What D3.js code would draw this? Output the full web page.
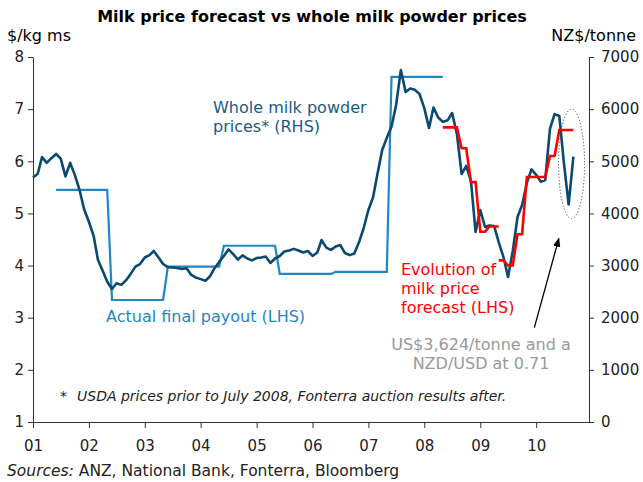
<!DOCTYPE html>
<html>
<head>
<meta charset="utf-8">
<script src="https://cdn.jsdelivr.net/npm/d3@7"></script>
<style>
  body { margin: 0; background: #fff; }
  svg { display: block; font-family: "DejaVu Sans", Verdana, sans-serif; }
</style>
</head>
<body>
<div id="chart"></div>
<script>

// Whole milk powder prices, NZ$/tonne, one value per month from Jan 2001 (RHS)
const wmpStart = "2001-01"
const wmpPrices = [
  4690, 4760, 5080, 4970, 5060, 5140, 5050, 4710, 4970, 4740, 4450, 4080,
  3840, 3570, 3110, 2900, 2690, 2550, 2660, 2630, 2720, 2840, 2980, 3030,
  3155, 3200, 3280, 3155, 3030, 2970, 2965, 2955, 2935, 2950, 2820, 2770,
  2740, 2710, 2790, 2950, 3070, 3185, 3310, 3220, 3115, 3195, 3135, 3100,
  3145, 3155, 3175, 3050, 3136, 3184, 3270, 3290, 3320, 3290, 3250, 3280,
  3184, 3250, 3490, 3345, 3300, 3365, 3395, 3240, 3200, 3230, 3450, 3720,
  4065, 4315, 4755, 5215, 5445, 5665, 6080, 6750, 6330, 6395, 6370, 6290,
  6020, 5640, 6030, 5840, 5755, 5785, 5925, 5525, 4755, 4910, 4620, 3645,
  4065, 3740, 3770, 3760, 3450, 3165, 2780, 3280, 3930, 4160, 4585, 4845,
  4740, 4605, 4640, 5620, 5905, 5870, 4970, 4170, 5090
]

// Actual final payout, $/kg ms, by season (June to May) (LHS)
const payoutSeasons = ["2001-06", "2002-06", "2003-06", "2004-06", "2005-06", "2006-06", "2007-06"]
const payoutValues = [5.45, 3.34, 3.98, 4.38, 3.84, 3.88, 7.62]

// Evolution of the milk price forecast, $/kg ms, monthly (LHS)
const forecastStarts = ["2008-05", "2009-05"]
const forecastA = [6.65, 6.65, 6.65, 6.65, 6.25, 6.25, 5.60, 5.60, 4.65, 4.65, 4.75, 4.75, 4.75]
const forecastB = [4.10, 4.10, 4.00, 4.00, 4.60, 4.60, 5.70, 5.70, 5.70, 5.70, 5.70, 6.10, 6.10, 6.60, 6.60, 6.60, 6.60]

const leftTicks = [1, 2, 3, 4, 5, 6, 7, 8]
const rightTicks = [0, 1000, 2000, 3000, 4000, 5000, 6000, 7000]

const width = 643
const height = 482
const margin = { top: 57, right: 54, bottom: 60, left: 33 }

const parseMonth = d3.timeParse("%Y-%m")
const monthly = (start, values) => values.map((v, i) => ({
  date: d3.timeMonth.offset(parseMonth(start), i),
  value: v
}))

const wmp = monthly(wmpStart, wmpPrices)
const payout = payoutSeasons.flatMap((s, k) => monthly(s, d3.range(12).map(() => payoutValues[k])))
const forecast = [monthly(forecastStarts[0], forecastA), monthly(forecastStarts[1], forecastB)]

const svg = d3.select("#chart").append("svg")
  .attr("width", width)
  .attr("height", height)

const xScale = d3.scaleTime()
  .domain([new Date(2001, 0, 1), new Date(2010, 11, 12)])
  .range([margin.left, width - margin.right])

const yLeft = d3.scaleLinear()
  .domain([1, 8])
  .range([height - margin.bottom, margin.top])

const yRight = d3.scaleLinear()
  .domain([0, 7000])
  .range([height - margin.bottom, margin.top])

// axes
const styleAxis = g => {
  g.attr("font-family", null).attr("font-size", 15).attr("color", "#333")
  g.selectAll("text").attr("fill", "#222")
}

svg.append("g")
  .attr("transform", `translate(${margin.left},0)`)
  .call(d3.axisLeft(yLeft).tickValues(leftTicks).tickFormat(d3.format("d"))
    .tickSize(5).tickSizeOuter(0).tickPadding(4))
  .call(styleAxis)

svg.append("g")
  .attr("transform", `translate(${width - margin.right},0)`)
  .call(d3.axisRight(yRight).tickValues(rightTicks).tickFormat(d3.format("d"))
    .tickSize(5).tickSizeOuter(0).tickPadding(7))
  .call(styleAxis)

svg.append("g")
  .attr("transform", `translate(0,${height - margin.bottom})`)
  .call(d3.axisBottom(xScale).ticks(d3.timeYear.every(1)).tickFormat(d3.timeFormat("%y"))
    .tickSize(6).tickSizeOuter(0).tickPadding(12))
  .call(styleAxis)

// lines
const leftLine = d3.line().x(d => xScale(d.date)).y(d => yLeft(d.value))
const rightLine = d3.line().x(d => xScale(d.date)).y(d => yRight(d.value))

svg.append("path")
  .attr("d", leftLine(payout))
  .attr("fill", "none")
  .attr("stroke", "#1f87c2")
  .attr("stroke-width", 2.2)

svg.append("path")
  .attr("d", rightLine(wmp))
  .attr("fill", "none")
  .attr("stroke", "#0b4a6f")
  .attr("stroke-width", 2.6)
  .attr("stroke-linejoin", "round")

svg.selectAll(".forecast")
  .data(forecast)
  .join("path")
    .attr("class", "forecast")
    .attr("d", leftLine)
    .attr("fill", "none")
    .attr("stroke", "#ff0000")
    .attr("stroke-width", 2.6)

// highlight ellipse and arrow
svg.append("ellipse")
  .attr("cx", xScale(new Date(2010, 7, 20)))
  .attr("cy", yRight(4950))
  .attr("rx", 13)
  .attr("ry", (yRight(3900) - yRight(6000)) / 2)
  .attr("fill", "none")
  .attr("stroke", "#444")
  .attr("stroke-width", 1)
  .attr("stroke-dasharray", "1.2,2")

svg.append("defs").append("marker")
  .attr("id", "head")
  .attr("viewBox", "0 0 10 10")
  .attr("refX", 9).attr("refY", 5)
  .attr("markerWidth", 7).attr("markerHeight", 7)
  .attr("orient", "auto")
  .append("path")
    .attr("d", "M0,1L10,5L0,9z")
    .attr("fill", "#000")

svg.append("line")
  .attr("x1", xScale(new Date(2009, 11, 20)))
  .attr("y1", yLeft(2.81))
  .attr("x2", xScale(new Date(2010, 4, 29)))
  .attr("y2", yLeft(4.52))
  .attr("stroke", "#000")
  .attr("stroke-width", 1.3)
  .attr("marker-end", "url(#head)")

// text
svg.append("text")
  .attr("x", 312).attr("y", 22)
  .attr("text-anchor", "middle")
  .attr("font-weight", "bold")
  .attr("font-size", 16)
  .text("Milk price forecast vs whole milk powder prices")

svg.append("text")
  .attr("x", 7).attr("y", 41)
  .attr("font-size", 16)
  .text("$/kg ms")

svg.append("text")
  .attr("x", 636).attr("y", 41)
  .attr("text-anchor", "end")
  .attr("font-size", 16)
  .text("NZ$/tonne")

const label = (lines, x, y, color, anchor) => {
  const t = svg.append("text")
    .attr("font-size", 16)
    .attr("fill", color)
    .attr("text-anchor", anchor || "start")
  lines.forEach((s, i) => t.append("tspan").attr("x", x).attr("y", y + i * 19).text(s))
}

label(["Whole milk powder", "prices* (RHS)"], 213, 113, "#1b5a86")
label(["Actual final payout (LHS)"], 106, 322, "#1f87c2")
label(["Evolution of", "milk price", "forecast (LHS)"], 401, 275, "#ff0000")
label(["US$3,624/tonne and a", "NZD/USD at 0.71"], 481, 350, "#999", "middle")

const note = svg.append("text")
  .attr("x", 60).attr("y", 401)
  .attr("font-size", 14)
  .attr("font-style", "italic")
  .attr("fill", "#222")
note.append("tspan").text("*")
note.append("tspan").attr("dx", 10).text("USDA prices prior to July 2008, Fonterra auction results after.")

const src = svg.append("text")
  .attr("x", 7).attr("y", 476)
  .attr("font-size", 15.5)
  .attr("fill", "#222")
src.append("tspan").attr("font-style", "italic").text("Sources:")
src.append("tspan").text(" ANZ, National Bank, Fonterra, Bloomberg")

</script>
</body>
</html>
